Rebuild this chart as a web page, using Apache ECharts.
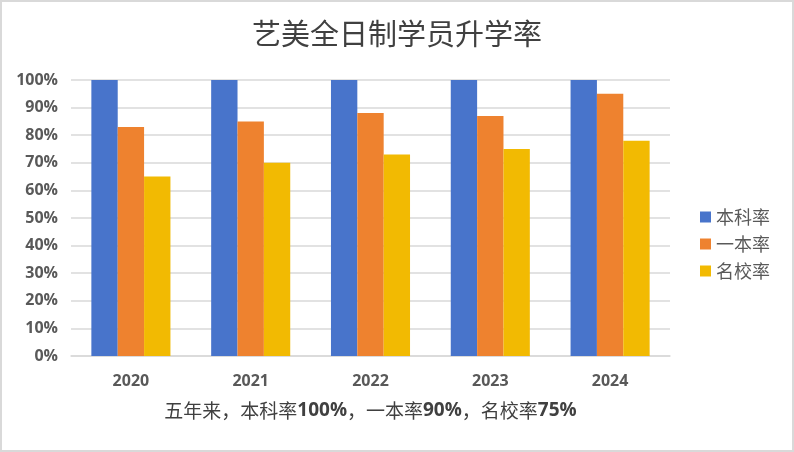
<!DOCTYPE html>
<html>
<head>
<meta charset="utf-8">
<script src="https://cdn.jsdelivr.net/npm/echarts@6/dist/echarts.min.js"></script>
<style>
html,body{margin:0;padding:0;background:#fff;}
#wrap{width:794px;height:452px;box-sizing:border-box;border:2px solid #d9d9d9;position:relative;}
#chart{position:absolute;left:-2px;top:-2px;width:794px;height:452px;}
</style>
</head>
<body>
<div id="wrap"><div id="chart"></div></div>
<script>
const categories = ['2020', '2021', '2022', '2023', '2024'];
const seriesNames = ['本科率', '一本率', '名校率'];
const benke = [100, 100, 100, 100, 100];
const yiben = [83, 85, 88, 87, 95];
const mingxiao = [65, 70, 73, 75, 78];
const titleText = '艺美全日制学员升学率';
const noteParts = [['五年来，本科率', 'c'], ['100%', 'n'], ['，一本率', 'c'], ['90%', 'n'], ['，名校率', 'c'], ['75%', 'n']];

const colors = ['#4874cb', '#ee822f', '#f2ba02'];
const cjk = '"Noto Sans CJK SC", sans-serif';
const latin = '"Open Sans", "Liberation Sans", sans-serif';

const chart = echarts.init(document.getElementById('chart'));
const noteStr = noteParts.map(p => '{' + p[1] + '|' + p[0] + '}').join('');
const mk = (name, data, i) => ({
  name: name, type: 'bar', data: data,
  barWidth: '22%', barGap: '0%',
  itemStyle: { color: colors[i] },
  emphasis: { disabled: true }
});
chart.setOption({
  animation: false,
  title: {
    text: titleText, left: 'center', top: 14,
    textStyle: { fontFamily: cjk, fontWeight: 'normal', fontSize: 29, color: '#404040' }
  },
  legend: {
    orient: 'vertical', left: 700, top: 208, padding: 0,
    itemWidth: 11, itemHeight: 11, itemGap: 9,
    icon: 'rect',
    textStyle: { fontFamily: cjk, fontSize: 18, color: '#595959' },
    data: seriesNames
  },
  grid: { left: 71, right: 124, top: 80, bottom: 96 },
  xAxis: {
    type: 'category', data: categories,
    axisLine: { lineStyle: { color: '#d9d9d9', width: 1.5 } },
    axisTick: { show: false },
    axisLabel: { margin: 17, fontFamily: latin, fontWeight: 'bold', fontSize: 16, color: '#595959' },
    name: noteStr, nameLocation: 'middle', nameGap: 45,
    nameTextStyle: {
      rich: {
        c: { fontFamily: cjk, fontSize: 19, color: '#404040' },
        n: { fontFamily: latin, fontWeight: 'bold', fontSize: 19, color: '#404040' }
      }
    }
  },
  yAxis: {
    type: 'value', min: 0, max: 100, interval: 10,
    axisLine: { show: false }, axisTick: { show: false },
    splitLine: { lineStyle: { color: '#d9d9d9', width: 1.5 } },
    axisLabel: { formatter: '{value}%', margin: 13, fontFamily: latin, fontWeight: 'bold', fontSize: 16, color: '#595959' }
  },
  series: [mk(seriesNames[0], benke, 0), mk(seriesNames[1], yiben, 1), mk(seriesNames[2], mingxiao, 2)]
});
</script>
</body>
</html>
